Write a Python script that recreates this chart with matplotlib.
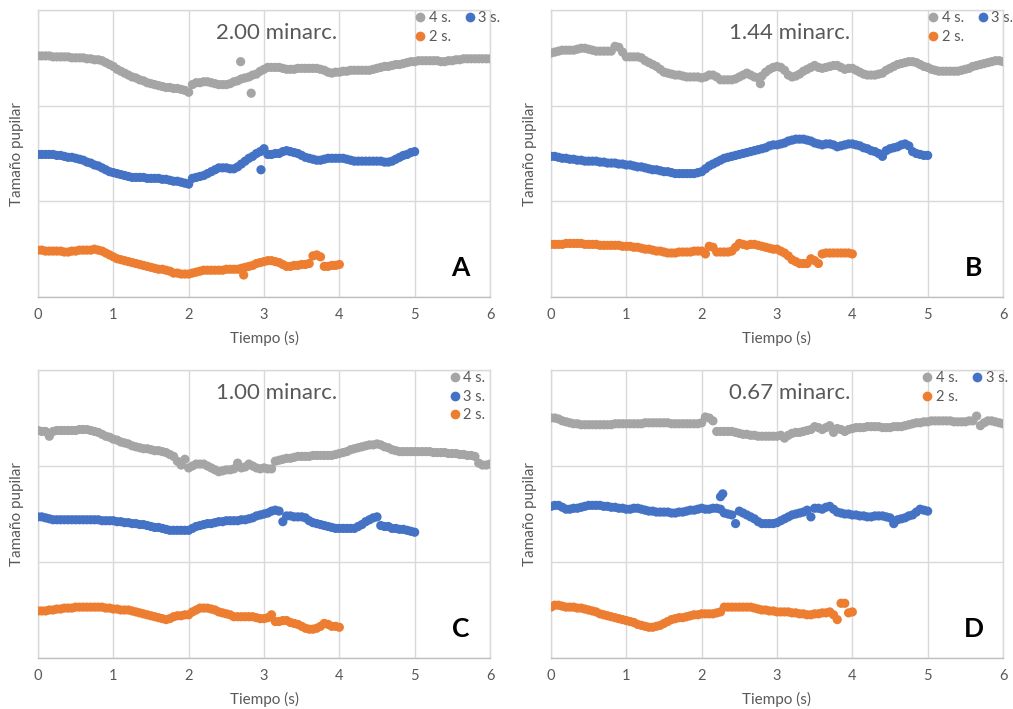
import matplotlib
matplotlib.use("Agg")
import matplotlib.pyplot as plt
from matplotlib.lines import Line2D

plt.rcParams['font.family'] = ['Lato', 'DejaVu Sans']

GRAY = '#a5a5a5'
BLUE = '#4472c4'
ORANGE = '#ed7d31'
TEXT = '#595959'
GRID = '#d9d9d9'

# Each trace is sampled every 0.05 s starting at t = 0 (one row = one second).
STEP = 0.05

# ---- Panel A : 2.00 minarc. ----
a4_v = [2.52, 2.52, 2.52, 2.52, 2.51, 2.51, 2.51, 2.51, 2.51, 2.50, 2.50, 2.50, 2.50, 2.49, 2.49, 2.48, 2.48, 2.47, 2.45, 2.43,
        2.41, 2.38, 2.36, 2.34, 2.32, 2.30, 2.29, 2.27, 2.26, 2.24, 2.23, 2.22, 2.21, 2.20, 2.19, 2.19, 2.18, 2.18, 2.17, 2.16,
        2.14, 2.22, 2.24, 2.24, 2.25, 2.25, 2.24, 2.23, 2.22, 2.22, 2.22, 2.23, 2.25, 2.26, 2.28, 2.29, 2.30, 2.32, 2.33, 2.36,
        2.38, 2.40, 2.40, 2.40, 2.40, 2.39, 2.38, 2.38, 2.38, 2.39, 2.39, 2.39, 2.39, 2.39, 2.39, 2.38, 2.37, 2.35, 2.34, 2.35,
        2.35, 2.36, 2.36, 2.37, 2.37, 2.37, 2.37, 2.37, 2.37, 2.38, 2.39, 2.40, 2.41, 2.41, 2.42, 2.43, 2.43, 2.44, 2.45, 2.46,
        2.46, 2.47, 2.47, 2.47, 2.47, 2.47, 2.47, 2.46, 2.46, 2.47, 2.47, 2.48, 2.48, 2.49, 2.49, 2.49, 2.49, 2.49, 2.49, 2.49,
        2.49]
a3_v = [1.49, 1.49, 1.49, 1.49, 1.49, 1.48, 1.48, 1.47, 1.46, 1.46, 1.45, 1.44, 1.43, 1.41, 1.40, 1.38, 1.37, 1.35, 1.33, 1.31,
        1.30, 1.29, 1.28, 1.27, 1.26, 1.25, 1.25, 1.25, 1.25, 1.24, 1.24, 1.24, 1.24, 1.23, 1.23, 1.22, 1.21, 1.21, 1.20, 1.19,
        1.18, 1.24, 1.25, 1.26, 1.27, 1.29, 1.31, 1.33, 1.35, 1.35, 1.35, 1.34, 1.34, 1.36, 1.39, 1.42, 1.45, 1.47, 1.50, 1.52,
        1.55, 1.49, 1.49, 1.50, 1.50, 1.52, 1.53, 1.52, 1.51, 1.50, 1.48, 1.46, 1.45, 1.44, 1.43, 1.43, 1.44, 1.45, 1.45, 1.45,
        1.45, 1.45, 1.44, 1.43, 1.42, 1.42, 1.42, 1.42, 1.42, 1.42, 1.42, 1.42, 1.41, 1.41, 1.42, 1.44, 1.46, 1.48, 1.49, 1.51,
        1.52]
a2_v = [0.49, 0.49, 0.48, 0.48, 0.48, 0.48, 0.48, 0.47, 0.47, 0.48, 0.48, 0.49, 0.49, 0.49, 0.49, 0.50, 0.49, 0.48, 0.46, 0.44,
        0.42, 0.40, 0.39, 0.38, 0.37, 0.36, 0.35, 0.34, 0.33, 0.32, 0.31, 0.30, 0.29, 0.29, 0.28, 0.27, 0.25, 0.25, 0.24, 0.24,
        0.24, 0.25, 0.26, 0.27, 0.28, 0.28, 0.28, 0.28, 0.28, 0.28, 0.29, 0.29, 0.29, 0.29, 0.30, 0.31, 0.32, 0.33, 0.35, 0.36,
        0.37, 0.38, 0.38, 0.37, 0.36, 0.34, 0.32, 0.32, 0.33, 0.33, 0.34, 0.34, 0.35, 0.43, 0.44, 0.42, 0.32, 0.32, 0.33, 0.33,
        0.34]
# stray samples off the main trace
a4_out_t, a4_out_v = [2.69, 2.83], [2.46, 2.13]
a3_out_t, a3_out_v = [2.96], [1.33]
a2_out_t, a2_out_v = [2.73], [0.23]

# ---- Panel B : 1.44 minarc. ----
b4_v = [2.55, 2.56, 2.57, 2.58, 2.58, 2.58, 2.58, 2.59, 2.60, 2.60, 2.59, 2.58, 2.57, 2.57, 2.57, 2.57, 2.57, 2.62, 2.61, 2.56,
        2.51, 2.51, 2.51, 2.51, 2.50, 2.47, 2.45, 2.43, 2.41, 2.38, 2.35, 2.34, 2.33, 2.32, 2.32, 2.31, 2.30, 2.30, 2.30, 2.30,
        2.29, 2.30, 2.32, 2.32, 2.30, 2.27, 2.27, 2.27, 2.27, 2.28, 2.30, 2.32, 2.34, 2.32, 2.30, 2.29, 2.31, 2.35, 2.38, 2.40,
        2.41, 2.40, 2.37, 2.32, 2.30, 2.31, 2.33, 2.36, 2.38, 2.40, 2.42, 2.40, 2.39, 2.40, 2.41, 2.42, 2.42, 2.40, 2.38, 2.39,
        2.39, 2.37, 2.35, 2.33, 2.32, 2.32, 2.32, 2.33, 2.34, 2.37, 2.39, 2.41, 2.43, 2.44, 2.45, 2.46, 2.46, 2.45, 2.43, 2.41,
        2.40, 2.38, 2.37, 2.36, 2.36, 2.36, 2.36, 2.36, 2.36, 2.37, 2.38, 2.39, 2.41, 2.42, 2.43, 2.44, 2.45, 2.46, 2.47, 2.47,
        2.46]
b3_v = [1.47, 1.47, 1.46, 1.45, 1.45, 1.44, 1.44, 1.43, 1.43, 1.42, 1.42, 1.42, 1.42, 1.41, 1.41, 1.40, 1.40, 1.40, 1.39, 1.39,
        1.38, 1.38, 1.37, 1.36, 1.36, 1.35, 1.34, 1.33, 1.33, 1.32, 1.31, 1.31, 1.30, 1.29, 1.29, 1.29, 1.29, 1.29, 1.29, 1.30,
        1.31, 1.34, 1.37, 1.39, 1.41, 1.43, 1.45, 1.46, 1.47, 1.48, 1.49, 1.50, 1.51, 1.52, 1.53, 1.54, 1.55, 1.56, 1.58, 1.59,
        1.59, 1.60, 1.61, 1.63, 1.64, 1.65, 1.65, 1.65, 1.64, 1.63, 1.61, 1.60, 1.59, 1.60, 1.60, 1.59, 1.57, 1.58, 1.59, 1.60,
        1.60, 1.59, 1.58, 1.56, 1.55, 1.53, 1.52, 1.50, 1.47, 1.53, 1.55, 1.56, 1.57, 1.59, 1.60, 1.58, 1.52, 1.50, 1.49, 1.48,
        1.48]
b2_v = [0.55, 0.55, 0.55, 0.55, 0.56, 0.56, 0.56, 0.56, 0.56, 0.55, 0.55, 0.55, 0.55, 0.54, 0.54, 0.54, 0.54, 0.54, 0.54, 0.53,
        0.53, 0.53, 0.52, 0.52, 0.51, 0.50, 0.50, 0.49, 0.48, 0.48, 0.47, 0.46, 0.46, 0.46, 0.47, 0.47, 0.47, 0.47, 0.48, 0.48,
        0.48, 0.45, 0.53, 0.52, 0.47, 0.47, 0.47, 0.47, 0.48, 0.52, 0.56, 0.55, 0.54, 0.55, 0.55, 0.54, 0.53, 0.52, 0.51, 0.50,
        0.50, 0.48, 0.46, 0.43, 0.39, 0.37, 0.35, 0.35, 0.35, 0.40, 0.38, 0.35, 0.45, 0.46, 0.46, 0.46, 0.46, 0.46, 0.46, 0.46,
        0.45]
b4_out_t, b4_out_v = [2.78], [2.23]

# ---- Panel C : 1.00 minarc. ----
c4_v = [2.37, 2.36, 2.36, 2.31, 2.36, 2.37, 2.37, 2.37, 2.37, 2.37, 2.37, 2.38, 2.38, 2.38, 2.37, 2.36, 2.35, 2.33, 2.31, 2.30,
        2.28, 2.27, 2.25, 2.24, 2.23, 2.21, 2.20, 2.19, 2.18, 2.18, 2.17, 2.16, 2.16, 2.15, 2.14, 2.12, 2.10, 2.05, 2.01, 2.07,
        1.98, 2.00, 2.02, 2.02, 2.02, 2.00, 1.98, 1.96, 1.94, 1.95, 1.96, 1.96, 1.97, 2.03, 1.98, 1.99, 2.02, 2.00, 1.98, 1.97,
        1.98, 1.97, 1.97, 2.05, 2.06, 2.07, 2.08, 2.08, 2.09, 2.10, 2.10, 2.10, 2.10, 2.11, 2.11, 2.11, 2.11, 2.11, 2.11, 2.12,
        2.13, 2.14, 2.15, 2.17, 2.18, 2.19, 2.20, 2.21, 2.22, 2.22, 2.23, 2.22, 2.20, 2.19, 2.17, 2.16, 2.15, 2.15, 2.15, 2.15,
        2.15, 2.15, 2.15, 2.15, 2.15, 2.14, 2.14, 2.14, 2.14, 2.13, 2.13, 2.13, 2.12, 2.12, 2.11, 2.11, 2.10, 2.03, 2.01, 2.01,
        2.02]
c3_v = [1.47, 1.47, 1.46, 1.45, 1.44, 1.44, 1.44, 1.44, 1.44, 1.44, 1.44, 1.44, 1.44, 1.44, 1.44, 1.44, 1.44, 1.43, 1.43, 1.43,
        1.43, 1.42, 1.42, 1.41, 1.41, 1.40, 1.40, 1.39, 1.39, 1.38, 1.37, 1.36, 1.36, 1.35, 1.34, 1.33, 1.33, 1.33, 1.33, 1.33,
        1.33, 1.35, 1.37, 1.38, 1.39, 1.40, 1.40, 1.41, 1.42, 1.42, 1.43, 1.43, 1.43, 1.43, 1.44, 1.44, 1.45, 1.46, 1.48, 1.49,
        1.50, 1.51, 1.53, 1.54, 1.53, 1.42, 1.48, 1.48, 1.47, 1.47, 1.47, 1.46, 1.43, 1.41, 1.40, 1.39, 1.38, 1.37, 1.36, 1.35,
        1.35, 1.35, 1.35, 1.35, 1.35, 1.37, 1.39, 1.42, 1.44, 1.46, 1.47, 1.38, 1.37, 1.37, 1.35, 1.35, 1.34, 1.34, 1.33, 1.32,
        1.31]
c2_v = [0.49, 0.49, 0.49, 0.50, 0.50, 0.51, 0.51, 0.52, 0.52, 0.52, 0.53, 0.53, 0.53, 0.53, 0.53, 0.53, 0.53, 0.53, 0.52, 0.52,
        0.51, 0.51, 0.50, 0.50, 0.50, 0.49, 0.48, 0.47, 0.46, 0.45, 0.44, 0.43, 0.42, 0.41, 0.40, 0.41, 0.43, 0.44, 0.44, 0.45,
        0.45, 0.48, 0.50, 0.52, 0.52, 0.52, 0.51, 0.50, 0.48, 0.47, 0.46, 0.45, 0.43, 0.43, 0.43, 0.43, 0.43, 0.43, 0.42, 0.41,
        0.41, 0.42, 0.45, 0.38, 0.38, 0.39, 0.39, 0.37, 0.36, 0.35, 0.33, 0.31, 0.30, 0.30, 0.31, 0.33, 0.36, 0.35, 0.33, 0.33,
        0.32]

# ---- Panel D : 0.67 minarc. ----
d4_v = [2.50, 2.50, 2.49, 2.47, 2.46, 2.45, 2.44, 2.44, 2.43, 2.43, 2.43, 2.43, 2.43, 2.43, 2.43, 2.43, 2.43, 2.44, 2.44, 2.44,
        2.44, 2.44, 2.44, 2.44, 2.44, 2.45, 2.45, 2.45, 2.45, 2.45, 2.45, 2.45, 2.44, 2.44, 2.44, 2.44, 2.44, 2.44, 2.44, 2.44,
        2.45, 2.51, 2.50, 2.47, 2.36, 2.36, 2.36, 2.36, 2.36, 2.35, 2.34, 2.33, 2.33, 2.32, 2.32, 2.31, 2.31, 2.31, 2.31, 2.31,
        2.31, 2.32, 2.29, 2.32, 2.34, 2.35, 2.35, 2.36, 2.37, 2.38, 2.41, 2.40, 2.38, 2.40, 2.42, 2.35, 2.39, 2.38, 2.36, 2.38,
        2.39, 2.40, 2.40, 2.40, 2.41, 2.41, 2.41, 2.41, 2.40, 2.40, 2.40, 2.41, 2.41, 2.41, 2.42, 2.43, 2.44, 2.45, 2.45, 2.46,
        2.46, 2.47, 2.47, 2.47, 2.47, 2.47, 2.47, 2.46, 2.46, 2.46, 2.46, 2.47, 2.47, 2.52, 2.42, 2.45, 2.47, 2.47, 2.46, 2.45,
        2.44]
d3_v = [1.58, 1.59, 1.59, 1.57, 1.55, 1.55, 1.56, 1.56, 1.57, 1.58, 1.59, 1.59, 1.59, 1.59, 1.58, 1.58, 1.57, 1.57, 1.56, 1.56,
        1.55, 1.55, 1.56, 1.56, 1.55, 1.54, 1.53, 1.53, 1.52, 1.52, 1.52, 1.52, 1.51, 1.51, 1.52, 1.52, 1.53, 1.54, 1.54, 1.55,
        1.56, 1.55, 1.55, 1.56, 1.56, 1.55, 1.51, 1.50, 1.49, 1.40, 1.53, 1.51, 1.49, 1.47, 1.45, 1.42, 1.40, 1.40, 1.40, 1.40,
        1.41, 1.43, 1.45, 1.47, 1.49, 1.50, 1.51, 1.52, 1.54, 1.47, 1.56, 1.56, 1.55, 1.57, 1.58, 1.55, 1.52, 1.51, 1.50, 1.50,
        1.49, 1.49, 1.48, 1.48, 1.47, 1.47, 1.48, 1.48, 1.48, 1.47, 1.46, 1.40, 1.44, 1.45, 1.46, 1.48, 1.49, 1.52, 1.55, 1.54,
        1.53]
d2_v = [0.53, 0.55, 0.55, 0.54, 0.53, 0.53, 0.53, 0.52, 0.52, 0.51, 0.50, 0.49, 0.48, 0.46, 0.45, 0.44, 0.43, 0.42, 0.41, 0.40,
        0.39, 0.38, 0.37, 0.35, 0.34, 0.33, 0.32, 0.32, 0.33, 0.34, 0.36, 0.38, 0.40, 0.41, 0.42, 0.42, 0.43, 0.44, 0.45, 0.45,
        0.46, 0.46, 0.46, 0.46, 0.47, 0.48, 0.53, 0.53, 0.53, 0.53, 0.53, 0.53, 0.53, 0.53, 0.52, 0.51, 0.50, 0.50, 0.49, 0.49,
        0.48, 0.48, 0.48, 0.48, 0.47, 0.47, 0.46, 0.46, 0.45, 0.45, 0.46, 0.46, 0.47, 0.47, 0.48, 0.45, 0.40, 0.57, 0.57, 0.47,
        0.48]
d3_out_t, d3_out_v = [2.25, 2.28], [1.68, 1.71]

titles = ['2.00 minarc.', '1.44 minarc.', '1.00 minarc.', '0.67 minarc.']
letters = ['A', 'B', 'C', 'D']
legend_labels = ['4 s.', '3 s.', '2 s.']
x_ticks = [0, 1, 2, 3, 4, 5, 6]

none = ([], [])
panels = [
    [(a4_v, (a4_out_t, a4_out_v)), (a3_v, (a3_out_t, a3_out_v)), (a2_v, (a2_out_t, a2_out_v))],
    [(b4_v, (b4_out_t, b4_out_v)), (b3_v, none), (b2_v, none)],
    [(c4_v, none), (c3_v, none), (c2_v, none)],
    [(d4_v, none), (d3_v, (d3_out_t, d3_out_v)), (d2_v, none)],
]
colors = [GRAY, BLUE, ORANGE]

# axes rectangles in figure fractions (left, bottom, width, height)
W, H = 1013, 709
rects = [
    (38 / W, 1 - 297 / H, 452 / W, 287 / H),
    (551 / W, 1 - 297 / H, 452 / W, 287 / H),
    (38 / W, 1 - 658 / H, 452 / W, 288 / H),
    (551 / W, 1 - 658 / H, 452 / W, 288 / H),
]
# legend anchor (upper left) in axes fractions, and number of columns
legend_pos = [(0.835, 0.995), (0.835, 0.995), (0.912, 0.995), (0.822, 0.995)]
legend_cols = [2, 2, 1, 2]

fig = plt.figure(figsize=(W / 100, H / 100), dpi=100)

for i, series in enumerate(panels):
    ax = fig.add_axes(rects[i])
    for (vals, (out_t, out_v)), col in zip(series, colors):
        t = [round(k * STEP, 2) for k in range(len(vals))]
        ax.scatter(t + out_t, vals + out_v, s=44, color=col, edgecolors='none', zorder=3)

    ax.set_xlim(0, 6)
    ax.set_ylim(0, 3)
    ax.set_xticks(x_ticks)
    ax.set_yticks([0, 1, 2, 3])
    ax.set_yticklabels([])
    ax.tick_params(axis='both', length=0, labelsize=10.5, labelcolor=TEXT)
    ax.tick_params(axis='x', pad=8)
    ax.grid(True, color=GRID, linewidth=1.0, zorder=0)
    ax.set_axisbelow(True)
    for side in ['top', 'right', 'left']:
        ax.spines[side].set_color(GRID)
        ax.spines[side].set_linewidth(1.0)
    ax.spines['bottom'].set_color('#bfbfbf')
    ax.spines['bottom'].set_linewidth(1.0)

    ax.set_xlabel('Tiempo (s)', fontsize=11, color=TEXT)
    ax.xaxis.set_label_coords(0.5, -0.118)
    ax.set_ylabel('Tamaño pupilar', fontsize=11, color=TEXT)
    ax.yaxis.set_label_coords(-0.032, 0.5)

    ax.text(0.527, 0.92, titles[i], transform=ax.transAxes, ha='center', va='center',
            fontsize=16, color=TEXT)
    ax.text(0.935, 0.10, letters[i], transform=ax.transAxes, ha='center', va='center',
            fontsize=19, fontweight='bold', color='black')

    handles = [Line2D([], [], linestyle='none', marker='o', markersize=7,
                      markerfacecolor=c, markeredgecolor='none') for c in colors]
    if legend_cols[i] == 2:
        # row 1: 4 s., 3 s. / row 2: 2 s.
        order = [0, 2, 1]
    else:
        order = [0, 1, 2]
    ax.legend([handles[k] for k in order], [legend_labels[k] for k in order],
              ncol=legend_cols[i], loc='upper left', bbox_to_anchor=legend_pos[i],
              frameon=False, fontsize=10.5, labelcolor=TEXT, handlelength=0.6,
              handletextpad=0.3, columnspacing=1.0, labelspacing=0.3, borderpad=0,
              borderaxespad=0)

fig.savefig('out.png', dpi=100)
